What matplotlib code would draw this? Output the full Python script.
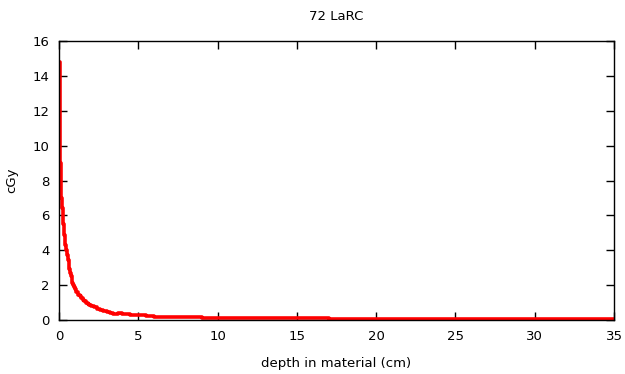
import matplotlib
matplotlib.use("Agg")
import matplotlib.pyplot as plt

# dose per depth bin (step plot)
depth_cm = [0.0, 0.05, 0.1, 0.15, 0.2, 0.25, 0.3, 0.35, 0.4, 0.45,
            0.5, 0.55, 0.6, 0.65, 0.7, 0.75, 0.8, 0.85, 0.9, 0.95,
            1.0, 1.1, 1.2, 1.3, 1.4, 1.5, 1.6, 1.7, 1.8, 1.9,
            2.0, 2.2, 2.4, 2.6, 2.8, 3.0, 3.2, 3.4, 3.6, 3.7,
            4.0, 4.5, 5.0, 5.5, 6.0, 7.0, 8.0, 9.0, 10.0, 12.0,
            14.0, 17.0, 20.0, 25.0, 30.0, 35.0]
dose_cgy = [14.8, 9.0, 7.8, 7.0, 6.4, 5.5, 4.9, 4.6, 4.3, 4.0,
            3.7, 3.45, 3.2, 2.95, 2.7, 2.5, 2.3, 2.15, 2.0, 1.88,
            1.75, 1.6, 1.45, 1.35, 1.25, 1.16, 1.08, 1.0, 0.93, 0.86,
            0.80, 0.72, 0.64, 0.57, 0.51, 0.46, 0.41, 0.37, 0.33, 0.38,
            0.34, 0.30, 0.26, 0.23, 0.20, 0.17, 0.15, 0.13, 0.12, 0.10,
            0.09, 0.08, 0.07, 0.065, 0.06, 0.06]

x_ticks = [0, 5, 10, 15, 20, 25, 30, 35]
y_ticks = [0, 2, 4, 6, 8, 10, 12, 14, 16]

plt.rcParams["font.family"] = "DejaVu Sans"
plt.rcParams["font.size"] = 9.5

fig = plt.figure(figsize=(6.25, 3.74), dpi=100)
ax = fig.add_axes([59 / 625, 1 - 320 / 374, 555 / 625, 279 / 374])

ax.step(depth_cm, dose_cgy, where="post", color="#ff0000", lw=2.6)

ax.set_xlim(0, 35)
ax.set_ylim(0, 16)
ax.set_xticks(x_ticks)
ax.set_yticks(y_ticks)
ax.tick_params(direction="in", length=6, width=1, top=True, right=True, pad=7)
for s in ax.spines.values():
    s.set_linewidth(1)

ax.set_xlabel("depth in material (cm)", labelpad=10)
ax.set_ylabel("cGy", labelpad=10)
fig.text(336 / 625, 1 - 16 / 374, "72 LaRC", ha="center", va="center")

fig.savefig("out.png", dpi=100)
